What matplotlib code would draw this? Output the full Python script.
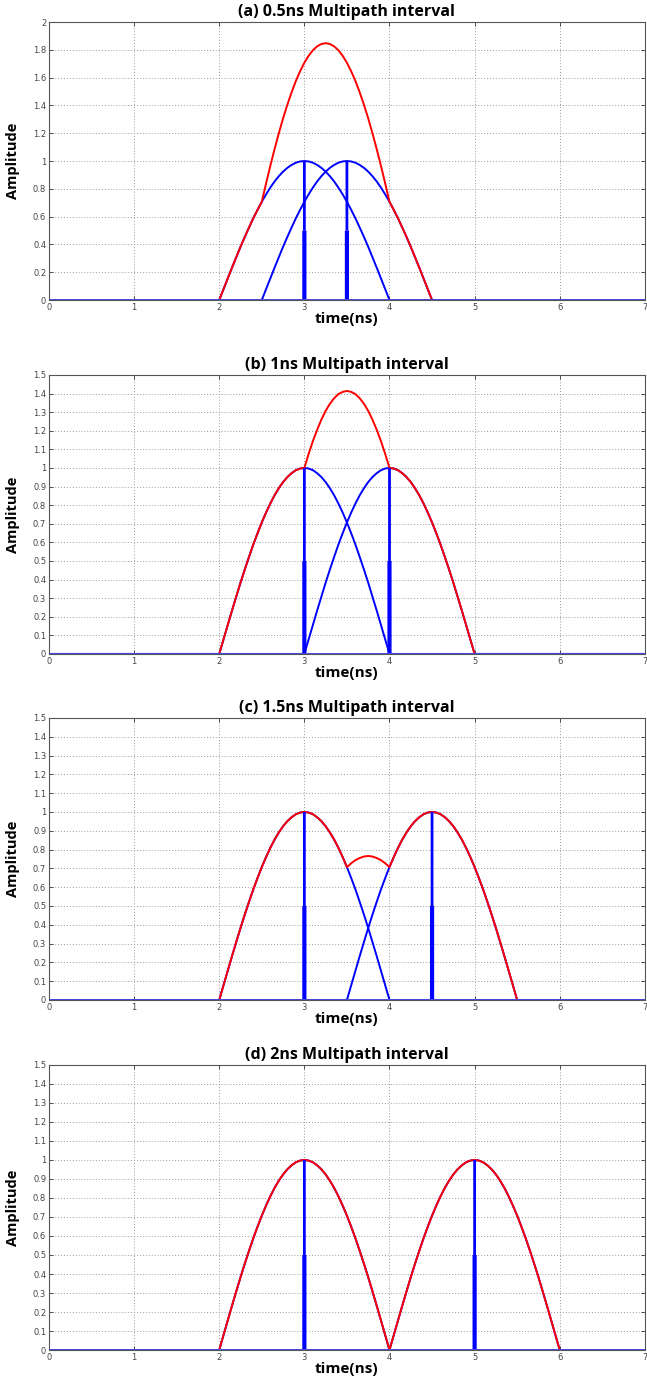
import matplotlib
matplotlib.use("Agg")
import matplotlib.pyplot as plt
import numpy as np

# pulse shape, one value every 0.05 ns over the 2 ns pulse
pulse = [0.000, 0.078, 0.156, 0.233, 0.309, 0.383, 0.454, 0.522, 0.588, 0.649,
         0.707, 0.760, 0.809, 0.853, 0.891, 0.924, 0.951, 0.972, 0.988, 0.997,
         1.000,
         0.997, 0.988, 0.972, 0.951, 0.924, 0.891, 0.853, 0.809, 0.760, 0.707,
         0.649, 0.588, 0.522, 0.454, 0.383, 0.309, 0.233, 0.156, 0.078, 0.000]
dt = 0.05
t_end = 7.0

# start of each path pulse (ns) and path peak time for each panel
titles = ["(a) 0.5ns Multipath interval", "(b) 1ns Multipath interval",
          "(c) 1.5ns Multipath interval", "(d) 2ns Multipath interval"]
starts = [[2.0, 2.5], [2.0, 3.0], [2.0, 3.5], [2.0, 4.0]]
peaks = [[3.0, 3.5], [3.0, 4.0], [3.0, 4.5], [3.0, 5.0]]
ymax = [2.0, 1.5, 1.5, 1.5]
ystep = [0.2, 0.1, 0.1, 0.1]
xticks = [0, 1, 2, 3, 4, 5, 6, 7]

# axes boxes in figure fractions: left, bottom, width, height
boxes = [[0.0757, 0.7821, 0.921, 0.2019],
         [0.0757, 0.5251, 0.921, 0.2026],
         [0.0757, 0.2738, 0.921, 0.2048],
         [0.0757, 0.0196, 0.921, 0.2070]]

t = np.round(np.arange(0, t_end + dt / 2, dt), 4)
n = len(t)

lab_font = ["Open Sans", "DejaVu Sans"]

fig = plt.figure(figsize=(6.47, 13.77), dpi=100)

for k in range(4):
    ax = fig.add_axes(boxes[k])
    total = np.zeros(n)
    paths = []
    for s in starts[k]:
        y = np.zeros(n)
        i0 = int(round(s / dt))
        y[i0:i0 + len(pulse)] = pulse
        paths.append(y)
        total += y
    for y in paths:
        ax.plot(t, y, color="#0000ff", lw=1.4, zorder=3)
    # red sum only on its support
    nz = np.nonzero(total)[0]
    i_a, i_b = max(nz[0] - 1, 0), min(nz[-1] + 1, n - 1)
    ax.plot(t[i_a:i_b + 1], total[i_a:i_b + 1], color="#ff0000", lw=1.4, zorder=4)
    # path impulses
    for p in peaks[k]:
        ax.plot([p, p], [0, 0.5], color="#0000ff", lw=3.0, zorder=5,
                solid_capstyle="butt", snap=False)
        ax.plot([p, p], [0.5, 1.0], color="#0000ff", lw=2.0, zorder=5,
                solid_capstyle="butt", snap=False)
    ax.axhline(0, color="#4a4adf", lw=1.4, zorder=6)

    ax.set_xlim(0, t_end)
    ax.set_ylim(0, ymax[k])
    ax.set_xticks(xticks)
    yt = np.round(np.arange(0, ymax[k] + ystep[k] / 2, ystep[k]), 2)
    ax.set_yticks(yt)
    ax.set_yticklabels([("%g" % v) for v in yt])
    ax.tick_params(direction="in", top=True, right=True, labelsize=6,
                   labelcolor="#444444", color="#333333", length=3, width=0.6, pad=2)
    ax.grid(True, linestyle=(0, (1, 2)), color="#9a9a9a", lw=0.7)
    for sp in ax.spines.values():
        sp.set_color("#555555")
        sp.set_linewidth(0.8)
    ax.set_title(titles[k], fontsize=11.5, fontweight="bold", family=lab_font, pad=4)
    ax.set_xlabel("time(ns)", fontsize=11, fontweight="bold", family=lab_font, labelpad=0)
    ax.set_ylabel("Amplitude", fontsize=10.5, fontweight="bold", family=lab_font, labelpad=9)

fig.savefig("out.png", dpi=100)
